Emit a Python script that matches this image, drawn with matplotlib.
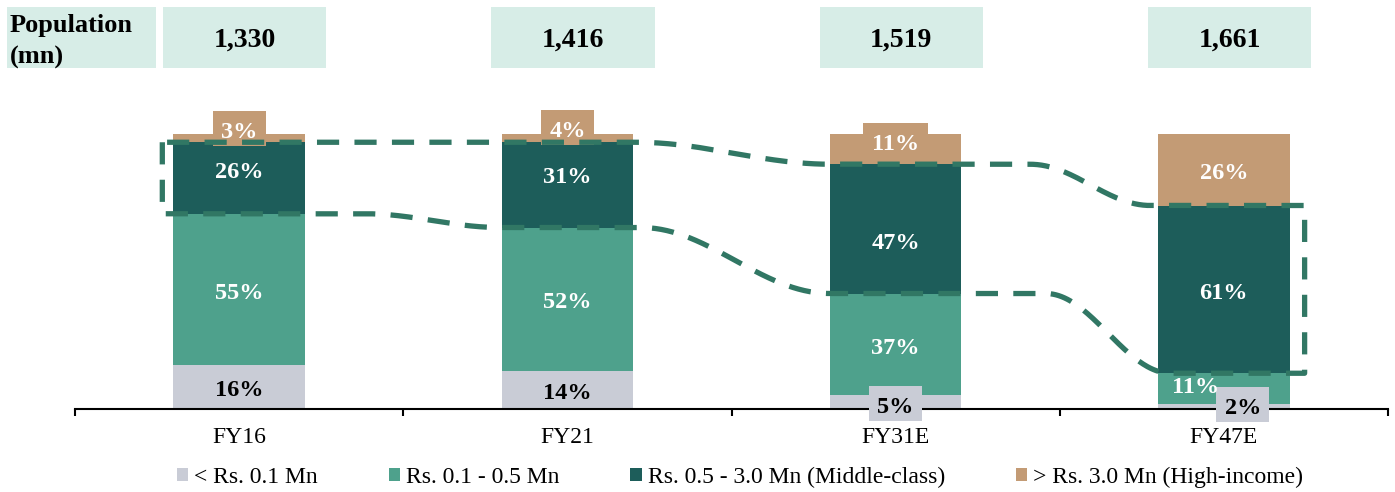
import numpy as np
import matplotlib
matplotlib.use("Agg")
import matplotlib.pyplot as plt
from matplotlib.patches import Rectangle
from matplotlib.transforms import blended_transform_factory, Affine2D, ScaledTranslation

plt.rcParams['font.family'] = ['Liberation Serif', 'DejaVu Serif']

# data
years = ['FY16', 'FY21', 'FY31E', 'FY47E']
population = [1330, 1416, 1519, 1661]
seg_names = ['< Rs. 0.1 Mn', 'Rs. 0.1 - 0.5 Mn',
             'Rs. 0.5 - 3.0 Mn (Middle-class)', '> Rs. 3.0 Mn (High-income)']
below_01 = [16, 14, 5, 2]
r01_05 = [55, 52, 37, 11]
r05_30 = [26, 31, 47, 61]
above_30 = [3, 4, 11, 26]

colors = ['#c9ccd6', '#4ea18c', '#1d5d5a', '#c39b75']
text_colors = ['black', 'white', 'white', 'white']
box_col = '#d7ede7'
dash_col = '#317764'

series = [below_01, r01_05, r05_30, above_30]
x = np.arange(len(years))
w = 0.4

fig = plt.figure(figsize=(13.95, 4.92), dpi=100)
ax = fig.add_axes([75/1395, 83/492, 1313/1395, 275/492])

bottom = np.zeros(len(years))
for vals, col, name in zip(series, colors, seg_names):
    ax.bar(x, vals, width=w, bottom=bottom, color=col, label=name, zorder=2)
    bottom += np.array(vals)

# label nudges in pixels (series index, bar index)
nudge = {(2, 0): (0, 10), (2, 1): (0, 11), (2, 2): (0, -11),
         (1, 3): (-28, 5), (0, 3): (19, 2), (0, 2): (0, -1.5),
         (3, 0): (0, 10), (3, 1): (0, 9), (3, 2): (0, 9)}

bottom = np.zeros(len(years))
for s, vals in enumerate(series):
    for i, v in enumerate(vals):
        yc = bottom[i] + v / 2
        boxed = (s == 0 and v < 10) or (s == 3 and v < 15)
        dx, dy = nudge.get((s, i), (0, 0))
        if boxed:
            lab = f'{v}'
            bw, bh = 17 + 12 * len(lab) + 24, 35
            tr = (Affine2D().scale(bw, bh).translate(dx - bw / 2, dy - bh / 2)
                  + ScaledTranslation(x[i], yc, ax.transData))
            ax.add_artist(Rectangle((0, 0), 1, 1, transform=tr, fc=colors[s],
                                    ec='none', zorder=3.5, clip_on=False))
        ax.annotate(f'{v}%', (x[i], yc), xytext=(dx, dy - 4), textcoords='offset pixels',
                    ha='center', va='center', fontsize=17.5, fontweight='bold',
                    color=text_colors[s], zorder=4, annotation_clip=False)
    bottom += np.array(vals)

# dashed outline around the middle-class segment
low = np.array(below_01) + np.array(r01_05)
top = low + np.array(r05_30)


def smooth_line(xx, levels, gaps):
    y = np.full_like(xx, levels[0], dtype=float)
    for k, (s0, s1) in enumerate(gaps):
        t = np.clip((xx - s0) / (s1 - s0), 0, 1)
        y += (levels[k + 1] - levels[k]) * (1 - np.cos(np.pi * t)) / 2
    return y


low_gaps = [(0.384, 0.796), (1.223, 1.80), (2.457, 2.838)]
top_gaps = [(0.207, 0.808), (1.207, 1.805), (2.41, 2.777)]
xl, xr = -w/2 - 0.034, 3 + w/2 + 0.046
xs = np.linspace(xl, xr, 800)
yl = smooth_line(xs, low, low_gaps)
yt = smooth_line(xs, top, top_gaps)
px = np.concatenate([[xl], xs, [xr], xs[::-1]])
py = np.concatenate([[yt[0]], yl, [yt[-1]], yt[::-1]])
ax.plot(px, py, color=dash_col, lw=3.8, ls=(0, (4.2, 2.9)), dash_capstyle='butt',
        solid_joinstyle='round', zorder=5, clip_on=False)

ax.set_xlim(-0.5, 3.5)
ax.set_ylim(0, 100)
for sp in ['left', 'top', 'right']:
    ax.spines[sp].set_visible(False)
ax.spines['bottom'].set_linewidth(1.5)
ax.set_yticks([])
ax.set_xticks(x)
ax.set_xticklabels(years, fontsize=17)
ax.set_xticks(np.arange(-0.5, 4, 1), minor=True)
ax.tick_params(axis='x', which='major', length=0, pad=13)
ax.tick_params(axis='x', which='minor', length=5, width=1.5, direction='out')

# population row
trans = blended_transform_factory(ax.transData, fig.transFigure)
y0, hb = 1 - 68/492, 61/492
fig.add_artist(Rectangle((7/1395, y0), 149/1395, hb, transform=fig.transFigure,
                         fc=box_col, ec='none'))
fig.text(10/1395, y0 + hb/2 - 4/492, 'Population\n(mn)', ha='left', va='center',
         fontsize=19, fontweight='bold', linespacing=1.45)
for i, p in enumerate(population):
    fig.add_artist(Rectangle((x[i] + 0.017 - 0.2485, y0), 0.497, hb, transform=trans,
                             fc=box_col, ec='none'))
    fig.text(x[i] + 0.017, y0 + hb/2 - 3/492, f'{p:,}', transform=trans, ha='center',
             va='center', fontsize=20, fontweight='bold')

fig.legend(loc='center', bbox_to_anchor=(740/1395, 15/492), ncol=4, frameon=False,
           fontsize=17, handlelength=0.48, handleheight=0.48, handletextpad=0.26,
           columnspacing=3.0, borderpad=0)

fig.savefig('out.png', dpi=100)
